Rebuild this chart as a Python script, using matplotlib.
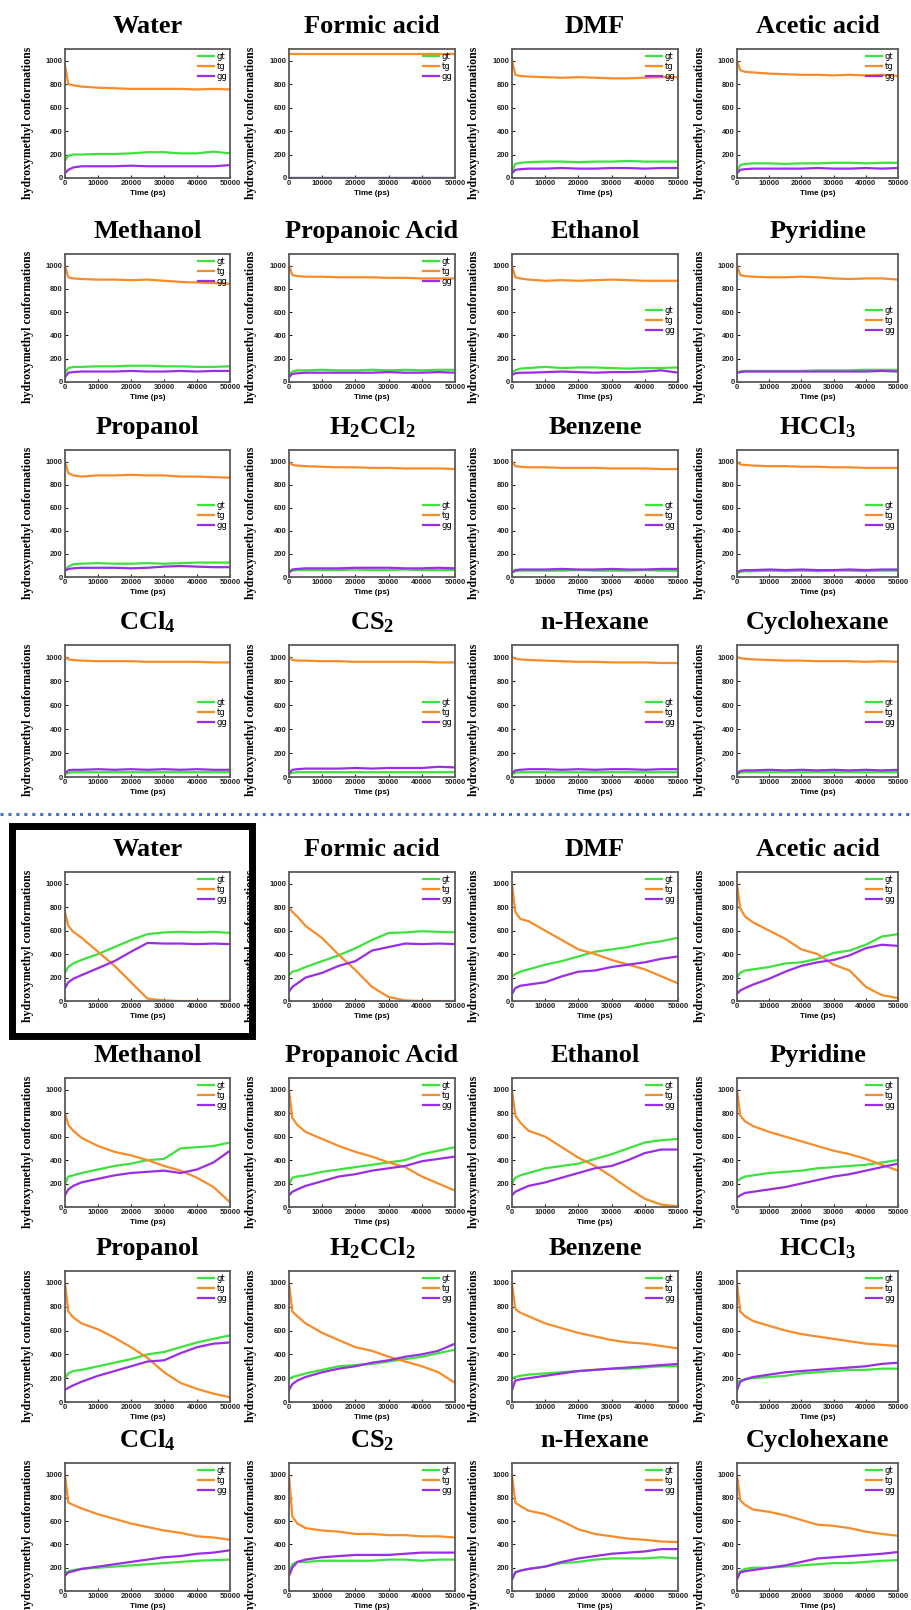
import matplotlib.pyplot as plt
from matplotlib.patches import Rectangle
from matplotlib.lines import Line2D

plt.rcParams['mathtext.fontset'] = 'custom'
plt.rcParams['mathtext.rm'] = 'Liberation Serif:bold'
plt.rcParams['mathtext.it'] = 'Liberation Serif:bold'
plt.rcParams['mathtext.bf'] = 'Liberation Serif:bold'

# ---- data ----
time_ps = [0, 1000, 2500, 5000, 10000, 15000, 20000, 25000, 30000, 35000, 40000, 45000, 50000]

solvents = ['Water', 'Formic acid', 'DMF', 'Acetic acid',
            'Methanol', 'Propanoic Acid', 'Ethanol', 'Pyridine',
            'Propanol', r'H$_2$CCl$_2$', 'Benzene', r'HCCl$_3$',
            r'CCl$_4$', r'CS$_2$', 'n-Hexane', 'Cyclohexane']

# upper block (equilibrium-like runs)
top_gt = [
    [150, 190, 200, 200, 205, 205, 210, 220, 220, 210, 210, 225, 210],
    [0, 0, 0, 0, 0, 0, 0, 0, 0, 0, 0, 0, 0],
    [60, 120, 130, 135, 140, 140, 135, 140, 140, 145, 140, 140, 140],
    [60, 110, 120, 125, 125, 120, 125, 125, 130, 130, 125, 130, 130],
    [80, 120, 130, 130, 135, 135, 140, 140, 135, 135, 130, 130, 135],
    [60, 90, 100, 100, 105, 100, 100, 105, 100, 105, 100, 105, 105],
    [80, 100, 115, 120, 130, 120, 125, 125, 120, 115, 120, 120, 125],
    [80, 90, 95, 95, 95, 95, 95, 100, 100, 100, 105, 105, 105],
    [60, 90, 110, 115, 120, 115, 115, 120, 115, 120, 125, 125, 125],
    [40, 55, 60, 60, 60, 60, 65, 60, 60, 65, 60, 60, 60],
    [40, 50, 55, 55, 55, 55, 60, 55, 55, 55, 60, 55, 55],
    [30, 45, 50, 50, 55, 50, 55, 50, 55, 55, 50, 55, 55],
    [25, 35, 40, 40, 40, 40, 40, 40, 40, 40, 40, 40, 40],
    [25, 35, 40, 40, 40, 40, 40, 40, 40, 40, 40, 40, 40],
    [25, 35, 40, 40, 40, 40, 40, 40, 40, 40, 40, 40, 40],
    [25, 35, 40, 40, 40, 40, 40, 40, 40, 40, 40, 40, 40],
]
top_tg = [
    [960, 800, 790, 780, 770, 765, 760, 760, 760, 760, 755, 760, 755],
    [1060, 1060, 1060, 1060, 1060, 1060, 1060, 1060, 1060, 1060, 1060, 1060, 1060],
    [1000, 880, 870, 865, 860, 855, 860, 855, 850, 850, 855, 860, 860],
    [1000, 920, 905, 900, 890, 885, 880, 880, 875, 880, 875, 880, 870],
    [1000, 900, 890, 885, 880, 880, 875, 880, 870, 860, 855, 850, 845],
    [1000, 920, 910, 905, 905, 900, 900, 900, 895, 895, 890, 890, 890],
    [1000, 900, 890, 880, 870, 875, 870, 875, 880, 875, 870, 870, 870],
    [1000, 920, 910, 905, 900, 900, 905, 900, 890, 885, 890, 890, 880],
    [1000, 900, 880, 870, 880, 880, 885, 880, 880, 870, 870, 865, 860],
    [1000, 970, 965, 960, 955, 950, 950, 945, 945, 940, 940, 940, 935],
    [1000, 960, 955, 950, 950, 945, 945, 945, 940, 940, 940, 935, 935],
    [1000, 975, 970, 965, 960, 960, 955, 955, 950, 950, 945, 945, 945],
    [1000, 980, 975, 970, 965, 965, 965, 960, 960, 960, 960, 955, 955],
    [1000, 975, 970, 970, 965, 965, 960, 960, 960, 960, 960, 955, 955],
    [1000, 985, 980, 975, 970, 965, 960, 960, 955, 955, 955, 950, 950],
    [1000, 990, 985, 980, 975, 970, 970, 965, 965, 965, 960, 965, 960],
]
top_gg = [
    [40, 70, 90, 100, 100, 100, 105, 100, 100, 100, 100, 100, 110],
    [0, 0, 0, 0, 0, 0, 0, 0, 0, 0, 0, 0, 0],
    [40, 70, 75, 80, 80, 85, 80, 80, 85, 85, 80, 85, 85],
    [40, 70, 75, 80, 80, 80, 80, 85, 80, 80, 85, 80, 85],
    [40, 80, 85, 90, 90, 90, 95, 90, 90, 95, 90, 95, 95],
    [40, 70, 75, 80, 80, 80, 80, 80, 85, 80, 80, 85, 80],
    [60, 75, 80, 80, 85, 90, 85, 80, 85, 85, 90, 100, 80],
    [80, 85, 90, 90, 90, 90, 90, 90, 90, 90, 90, 95, 90],
    [55, 70, 75, 80, 80, 80, 75, 80, 90, 95, 90, 85, 85],
    [40, 65, 70, 75, 75, 75, 80, 80, 80, 75, 75, 80, 75],
    [40, 60, 65, 65, 65, 70, 65, 65, 70, 65, 65, 70, 70],
    [40, 55, 60, 60, 65, 60, 65, 60, 60, 65, 60, 65, 65],
    [30, 55, 60, 60, 65, 60, 65, 60, 65, 60, 65, 60, 60],
    [30, 60, 65, 70, 70, 70, 75, 70, 75, 75, 75, 85, 80],
    [30, 55, 60, 65, 65, 60, 65, 60, 65, 65, 60, 65, 65],
    [30, 50, 55, 55, 60, 55, 60, 55, 60, 55, 60, 55, 60],
]
top_legend = ['top', 'top', 'top', 'top', 'top', 'top', 'mid', 'mid',
              'mid', 'mid', 'mid', 'mid', 'mid', 'mid', 'mid', 'mid']

# lower block (runs that relax away from tg)
bot_gt = [
    [240, 290, 320, 350, 400, 460, 520, 570, 585, 590, 585, 590, 580],
    [220, 250, 260, 290, 340, 390, 450, 520, 580, 585, 595, 590, 585],
    [210, 230, 250, 270, 310, 340, 380, 420, 440, 460, 490, 510, 540],
    [200, 240, 260, 270, 290, 320, 330, 360, 410, 430, 480, 550, 570],
    [200, 260, 270, 290, 320, 350, 370, 400, 410, 500, 510, 520, 550],
    [190, 250, 260, 270, 300, 320, 340, 360, 380, 400, 450, 480, 510],
    [200, 250, 270, 290, 330, 350, 370, 410, 450, 500, 550, 570, 580],
    [220, 240, 260, 270, 290, 300, 310, 330, 340, 350, 360, 380, 400],
    [200, 240, 260, 270, 300, 330, 360, 400, 420, 460, 500, 530, 560],
    [190, 210, 220, 240, 270, 300, 310, 320, 340, 360, 380, 410, 440],
    [200, 210, 220, 230, 240, 250, 260, 270, 280, 280, 290, 300, 300],
    [160, 180, 190, 200, 210, 220, 240, 250, 260, 270, 270, 280, 280],
    [150, 170, 180, 190, 200, 210, 220, 230, 240, 250, 260, 265, 270],
    [150, 230, 250, 250, 260, 260, 260, 260, 270, 270, 260, 270, 270],
    [100, 160, 175, 190, 210, 240, 250, 270, 280, 280, 280, 290, 280],
    [130, 170, 190, 200, 200, 210, 220, 230, 240, 240, 250, 260, 265],
]
bot_tg = [
    [760, 640, 590, 540, 420, 300, 160, 20, 5, 0, 0, 0, 0],
    [800, 760, 720, 640, 536, 393, 264, 120, 34, 5, 0, 0, 0],
    [1000, 760, 700, 680, 600, 520, 440, 400, 350, 310, 270, 210, 150],
    [1000, 790, 720, 670, 600, 530, 440, 400, 310, 260, 120, 50, 25],
    [800, 700, 650, 590, 520, 470, 440, 400, 350, 310, 250, 170, 40],
    [1000, 760, 700, 640, 580, 520, 470, 430, 380, 340, 260, 200, 140],
    [1000, 780, 720, 650, 600, 510, 420, 350, 260, 160, 70, 20, 5],
    [1000, 780, 730, 690, 640, 600, 560, 520, 480, 450, 410, 360, 310],
    [1000, 760, 710, 660, 610, 540, 460, 370, 250, 160, 110, 70, 40],
    [1000, 760, 720, 660, 580, 520, 460, 430, 380, 340, 300, 250, 160],
    [1000, 780, 750, 720, 660, 620, 580, 550, 520, 500, 490, 470, 450],
    [1000, 760, 720, 680, 640, 600, 570, 550, 530, 510, 490, 480, 470],
    [1000, 760, 740, 710, 660, 620, 580, 550, 520, 500, 470, 460, 440],
    [1000, 640, 580, 540, 520, 510, 490, 490, 480, 480, 470, 470, 460],
    [1000, 760, 730, 690, 660, 600, 530, 490, 470, 450, 440, 425, 420],
    [1000, 780, 740, 700, 680, 650, 610, 570, 560, 540, 510, 490, 475],
]
bot_gg = [
    [110, 160, 190, 220, 280, 340, 420, 495, 490, 490, 485, 490, 485],
    [80, 120, 150, 200, 240, 300, 340, 430, 460, 490, 485, 490, 485],
    [60, 110, 130, 140, 160, 210, 250, 260, 290, 310, 330, 360, 380],
    [60, 90, 110, 140, 190, 250, 300, 330, 350, 390, 450, 480, 470],
    [100, 150, 180, 210, 240, 270, 290, 300, 310, 290, 320, 380, 480],
    [100, 130, 150, 180, 220, 260, 280, 310, 330, 350, 390, 410, 430],
    [100, 130, 150, 180, 210, 250, 290, 330, 350, 400, 460, 490, 490],
    [80, 100, 120, 130, 150, 170, 200, 230, 260, 280, 310, 340, 370],
    [100, 120, 140, 170, 220, 260, 300, 340, 350, 410, 460, 490, 500],
    [100, 150, 180, 210, 250, 280, 300, 330, 350, 380, 400, 430, 490],
    [100, 180, 190, 200, 220, 240, 260, 270, 280, 290, 300, 310, 320],
    [100, 170, 190, 210, 230, 250, 260, 270, 280, 290, 300, 320, 330],
    [130, 160, 170, 190, 210, 230, 250, 270, 290, 300, 320, 330, 350],
    [130, 200, 250, 270, 290, 300, 310, 310, 310, 320, 330, 330, 330],
    [100, 160, 175, 190, 210, 250, 280, 300, 320, 330, 340, 360, 360],
    [100, 160, 170, 180, 200, 220, 250, 280, 290, 300, 310, 320, 335],
]

# ---- layout (pixel boxes of each plot area) ----
W, H = 911, 1610
cols = [(65, 230), (289, 455), (512, 678), (737, 898)]
rows = [(49, 178), (254, 382), (450, 577), (645, 777),
        (872, 1001), (1078, 1207), (1271, 1402), (1463, 1591)]

C_GT, C_TG, C_GG = '#3de23d', '#f78c2a', '#9a2de6'

fig = plt.figure(figsize=(W / 100, H / 100), dpi=100)


def panel(r, c, title, gt, tg, gg, where):
    x0, x1 = cols[c]
    y0, y1 = rows[r]
    ax = fig.add_axes([x0 / W, 1 - y1 / H, (x1 - x0) / W, (y1 - y0) / H])
    ax.plot(time_ps, gt, color=C_GT, lw=1.6, label='gt')
    ax.plot(time_ps, tg, color=C_TG, lw=1.6, label='tg')
    ax.plot(time_ps, gg, color=C_GG, lw=1.6, label='gg')
    ax.set_xlim(0, 50000)
    ax.set_ylim(0, 1100)
    ax.set_xticks(range(0, 50001, 10000))
    ax.set_yticks(range(0, 1001, 200))
    ax.tick_params(direction='in', length=2, width=0.8, pad=1.5,
                   labelsize=5.5, colors='#222222')
    for lab in ax.get_xticklabels() + ax.get_yticklabels():
        lab.set_fontweight('bold')
        lab.set_family('Liberation Sans')
    for s in ax.spines.values():
        s.set_color('#5a5a5a')
        s.set_linewidth(1.3)
    ax.set_xlabel('Time (ps)', fontsize=5.8, fontweight='bold',
                  family='Liberation Sans', labelpad=2)
    ax.set_ylabel('hydroxymethyl conformations', fontsize=8.5,
                  fontweight='bold', family='Liberation Serif')
    ax.yaxis.set_label_coords(-0.19, 0.43)
    anchor = (1.0, 1.0) if where == 'top' else (1.0, 0.62)
    ax.legend(loc='upper right', bbox_to_anchor=anchor, frameon=False,
              fontsize=6, handlelength=1.9, handletextpad=0.3,
              labelspacing=0.12, borderaxespad=0.15, borderpad=0.2)
    fig.text((x0 + x1) / 2 / W, 1 - (y0 - 16) / H, title,
             ha='center', va='baseline', fontsize=19, fontweight='bold',
             family='Liberation Serif')
    return ax


for i, name in enumerate(solvents):
    panel(i // 4, i % 4, name, top_gt[i], top_tg[i], top_gg[i], top_legend[i])
    panel(4 + i // 4, i % 4, name, bot_gt[i], bot_tg[i], bot_gg[i], 'top')

# dotted separator between the two blocks
fig.add_artist(Line2D([0, 1], [1 - 814 / H, 1 - 814 / H], transform=fig.transFigure,
                      color='#4472c4', lw=2.2, linestyle=(0, (1, 1.6))))

# black frame around the highlighted panel
fig.add_artist(Rectangle((11.5 / W, 1 - 1036 / H), (252 - 11.5) / W, (1036 - 826) / H,
                         transform=fig.transFigure, fill=False,
                         edgecolor='black', lw=5))

fig.savefig('out.png', dpi=100)
